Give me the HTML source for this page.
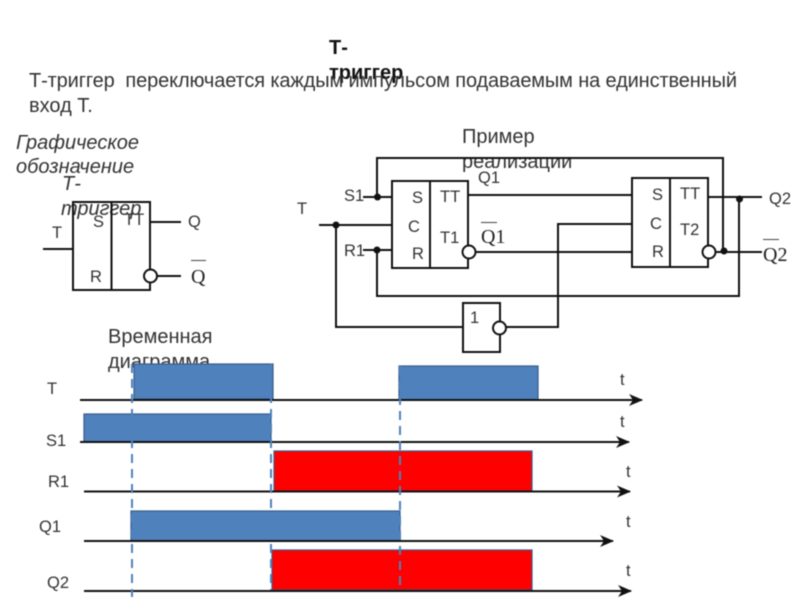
<!DOCTYPE html>
<html><head><meta charset="utf-8"><style>
html,body{margin:0;padding:0;background:#fff;width:800px;height:600px;overflow:hidden}
svg{display:block;filter:blur(.45px)}
text{font-family:"Liberation Sans",sans-serif;fill:#222}
.l{fill:none;stroke:#111;stroke-width:2}
.b{fill:#4f81bd;stroke:#385d8a;stroke-width:1.2}
.r{fill:#f00;stroke:#385d8a;stroke-width:1.2}
.d{fill:none;stroke:#4f81bd;stroke-width:2;stroke-dasharray:9 6}
.s{font-size:16.5px;fill:#333}
.m{font-family:"Liberation Serif",serif;font-size:20px}
.t{font-size:20px;fill:#333}
</style></head><body>
<svg width="800" height="600" viewBox="0 0 800 600" xmlns="http://www.w3.org/2000/svg">
<defs><marker id="a" markerWidth="14" markerHeight="12" refX="13" refY="6" orient="auto" markerUnits="userSpaceOnUse"><path d="M0 0L14 6L0 12L4 6Z" fill="#111"/></marker></defs>

<text x="329" y="54" font-size="20" font-weight="bold" style="fill:#111">Т-</text>
<text x="329" y="79" font-size="20" font-weight="bold" style="fill:#111">триггер</text>
<text class="t" x="29" y="87" textLength="708" lengthAdjust="spacing">Т-триггер&#160; переключается каждым импульсом подаваемым на единственный</text>
<text class="t" x="29" y="112">вход Т.</text>

<text class="t" x="16" y="149" font-style="italic">Графическое</text>
<text class="t" x="16" y="173" font-style="italic">обозначение</text>
<text class="t" x="62" y="190" font-style="italic">Т-</text>
<text class="t" x="61" y="215" font-style="italic">триггер</text>

<rect class="l" x="73" y="202" width="77" height="88"/>
<path class="l" d="M111.500 202V290M43 249H74M150 222H181M157 276H181"/>
<circle cx="150.500" cy="276" r="6.500" fill="#fff" stroke="#111" stroke-width="2"/>
<text class="s" x="93" y="227">S</text>
<text class="s" x="124" y="225">ТТ</text>
<text class="s" x="90" y="282">R</text>
<text class="s" x="52" y="238">Т</text>
<text class="s" x="188" y="227">Q</text>
<text class="m" x="191" y="283">Q</text>
<path d="M191 260.500H206" stroke="#444" stroke-width="1"/>

<text class="t" x="462" y="143">Пример</text>
<text class="t" x="462" y="168">реализации</text>

<path class="l" d="M377 197V158H723V251M363 197H392M319 225H392M336 225V327H463M363 250H392M377 250V296H739V197M468 195H632M476 252H632M506 327H558V224H632M708 197H762M715 252H762"/>
<rect class="l" x="392" y="181" width="76" height="87" fill="none"/>
<path class="l" d="M430 181V268"/>
<rect class="l" x="632" y="178" width="76" height="89"/>
<path class="l" d="M670 178V267"/>
<rect class="l" x="463" y="303" width="37" height="49"/>
<circle cx="469" cy="252" r="6.500" fill="#fff" stroke="#111" stroke-width="2"/>
<circle cx="709" cy="252" r="6.500" fill="#fff" stroke="#111" stroke-width="2"/>
<circle cx="499.500" cy="328" r="6.500" fill="#fff" stroke="#111" stroke-width="2"/>
<g fill="#111"><circle cx="377.500" cy="197" r="3.500"/><circle cx="336" cy="225" r="3.500"/><circle cx="377" cy="250" r="3.500"/><circle cx="739.500" cy="199" r="3.500"/><circle cx="724" cy="251" r="3.500"/></g>

<text class="s" x="344" y="201">S1</text>
<text class="s" x="344" y="256">R1</text>
<text class="s" x="297" y="214">Т</text>
<text class="s" x="478" y="183">Q1</text>
<text class="s" x="412" y="203">S</text>
<text class="s" x="408" y="232">C</text>
<text class="s" x="412" y="259">R</text>
<text class="s" x="440" y="202">ТТ</text>
<text class="s" x="440" y="243">Т1</text>
<text class="m" x="481" y="243">Q1</text>
<path d="M481 222.500H497" stroke="#444" stroke-width="1"/>
<text class="s" x="652" y="200">S</text>
<text class="s" x="650" y="229">C</text>
<text class="s" x="652" y="257">R</text>
<text class="s" x="680" y="199">ТТ</text>
<text class="s" x="680" y="235">Т2</text>
<text class="s" x="769" y="204">Q2</text>
<text class="m" x="763" y="261">Q2</text>
<path d="M763 239.500H779" stroke="#444" stroke-width="1"/>
<text class="s" x="470" y="323">1</text>

<text class="t" x="108" y="343">Временная</text>
<text class="t" x="108" y="368">диаграмма</text>

<rect class="b" x="134" y="364" width="139" height="35"/>
<rect class="b" x="399" y="366" width="139" height="34"/>
<rect class="b" x="84" y="414" width="187" height="28"/>
<rect class="r" x="274" y="451" width="258" height="40"/>
<rect class="b" x="131" y="511" width="269" height="30"/>
<rect class="r" x="272" y="550" width="260" height="40"/>

<path class="l" marker-end="url(#a)" d="M80 400H642"/>
<path class="l" marker-end="url(#a)" d="M80 442H629"/>
<path class="l" marker-end="url(#a)" d="M84 491.500H630"/>
<path class="l" marker-end="url(#a)" d="M84 541H613"/>
<path class="l" marker-end="url(#a)" d="M84 591H631"/>

<path class="d" d="M132 364V597M271 364V590M400 366V588"/>

<text class="s" x="47" y="394">Т</text>
<text class="s" x="46" y="446">S1</text>
<text class="s" x="48" y="487">R1</text>
<text class="s" x="39" y="532">Q1</text>
<text class="s" x="47" y="588">Q2</text>
<text class="s" x="620" y="385">t</text>
<text class="s" x="620" y="427">t</text>
<text class="s" x="626" y="477">t</text>
<text class="s" x="626" y="527">t</text>
<text class="s" x="626" y="576">t</text>
</svg>
</body></html>
